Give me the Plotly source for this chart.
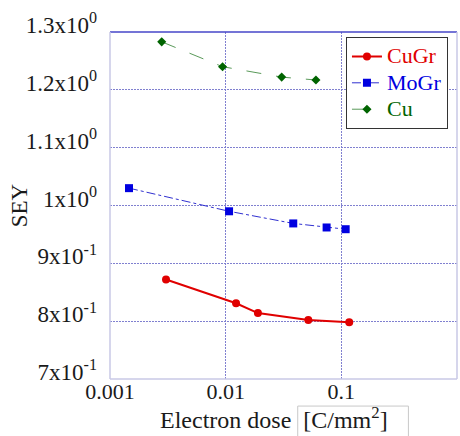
import plotly.graph_objects as go

# Data
cugr_x = [0.00305, 0.0123, 0.019, 0.0518, 0.117]
cugr_y = [0.872, 0.831, 0.814, 0.802, 0.798]
mogr_x = [0.00146, 0.0107, 0.0384, 0.0746, 0.109]
mogr_y = [1.030, 0.990, 0.969, 0.962, 0.959]
cu_x = [0.0028, 0.0094, 0.0305, 0.0603]
cu_y = [1.283, 1.240, 1.222, 1.217]

y_tickvals = [0.7, 0.8, 0.9, 1.0, 1.1, 1.2, 1.3]
y_ticktext = ["7x10<sup>-1</sup>", "8x10<sup>-1</sup>", "9x10<sup>-1</sup>", "1x10<sup>0</sup>",
              "1.1x10<sup>0</sup>", "1.2x10<sup>0</sup>", "1.3x10<sup>0</sup>"]
x_tickvals = [0.001, 0.01, 0.1, 1]
x_ticktext = ["0.001", "0.01", "0.1", "1"]

FONT = "Liberation Serif"
TXT = "#1a1a1a"

fig = go.Figure()
fig.add_trace(go.Scatter(
    x=cugr_x, y=cugr_y, mode="lines+markers",
    name='<span style="color:#e00000;font-size:22px">CuGr</span>',
    line=dict(color="#e00000", width=2),
    marker=dict(color="#e00000", size=8, symbol="circle")))
fig.add_trace(go.Scatter(
    x=mogr_x, y=mogr_y, mode="lines+markers",
    name='<span style="color:#0000e0;font-size:22px">MoGr</span>',
    line=dict(color="#3030d0", width=1, dash="dashdot"),
    marker=dict(color="#0000e0", size=8, symbol="square")))
fig.add_trace(go.Scatter(
    x=cu_x, y=cu_y, mode="lines+markers",
    name='<span style="color:#006400;font-size:22px">Cu</span>',
    line=dict(color="#5a9a5a", width=1, dash="longdash"),
    marker=dict(color="#006400", size=7, symbol="diamond")))

fig.update_layout(
    width=460, height=436,
    margin=dict(l=110, r=3, t=32, b=57, autoexpand=False),
    paper_bgcolor="white", plot_bgcolor="white",
    font=dict(family=FONT, size=22, color=TXT),
    showlegend=True,
    legend=dict(
        x=0.68, y=0.985, xanchor="left", yanchor="top",
        bgcolor="white", bordercolor="#333", borderwidth=1,
        font=dict(family=FONT, size=18, color=TXT),
        itemwidth=30, tracegroupgap=0,
    ),
    xaxis=dict(
        type="log", range=[-3, 0],
        tickvals=x_tickvals, ticktext=x_ticktext,
        showgrid=True, gridcolor="#8080d0", griddash="2px,1px", gridwidth=1,
        zeroline=False, showline=False, ticks="",
        tickfont=dict(family=FONT, size=22, color=TXT),
        ticklabelstandoff=-3,
    ),
    yaxis=dict(
        range=[0.7, 1.3],
        tickvals=y_tickvals, ticktext=y_ticktext,
        showgrid=True, gridcolor="#8080d0", griddash="2px,1px", gridwidth=1,
        zeroline=False, showline=False, ticks="",
        tickfont=dict(family=FONT, size=23, color=TXT),
        ticklabelstandoff=12, ticklabelshift=-7,
    ),
    shapes=[
        dict(type="line", xref="paper", yref="paper", x0=0, x1=1, y0=1, y1=1,
             line=dict(color="#4646c8", width=1.5)),
        dict(type="line", xref="paper", yref="paper", x0=0, x1=0, y0=0, y1=1,
             line=dict(color="#c8c8e6", width=1.5)),
        dict(type="line", xref="paper", yref="paper", x0=1, x1=1, y0=0, y1=1,
             line=dict(color="#c8c8e6", width=1.5)),
        dict(type="line", xref="paper", yref="paper", x0=0, x1=1, y0=0, y1=0,
             line=dict(color="#c8c8e6", width=1.5)),
        dict(type="rect", xref="paper", yref="paper", x0=0.541, x1=0.86, y0=-0.078, y1=-0.2,
             line=dict(color="#c8c8c8", width=1), fillcolor="rgba(0,0,0,0)"),
    ],
    annotations=[
        dict(text="SEY", xref="paper", yref="paper", x=-0.26, y=0.5,
             xanchor="center", yanchor="middle", textangle=-90, showarrow=False,
             font=dict(family=FONT, size=23, color=TXT)),
        dict(text="Electron dose\u00a0 [C/mm<sup>2</sup>]", xref="paper", yref="paper",
             x=0.472, y=-0.112, xanchor="center", yanchor="middle", showarrow=False,
             font=dict(family=FONT, size=24, color=TXT)),
    ],
)

fig.write_html("out.html", config={"displayModeBar": False},
               post_script="document.body.style.margin='0';document.body.style.padding='0';")
